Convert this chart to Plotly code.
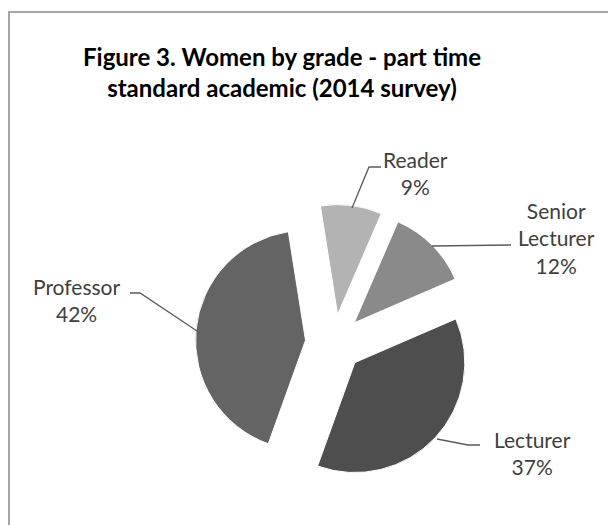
import plotly.graph_objects as go

# Share of part-time standard academic women by grade (2014 survey)
grades = ["Reader", "Senior Lecturer", "Lecturer", "Professor"]
shares = [9, 12, 37, 42]
slice_colors = ["#b3b3b3", "#8a8a8a", "#4e4e4e", "#646464"]

# label text lines for each grade
label_lines = {
    "Reader": ["Reader"],
    "Senior Lecturer": ["Senior", "Lecturer"],
    "Lecturer": ["Lecturer"],
    "Professor": ["Professor"],
}

W, H = 608, 525
FONT = "Lato"
TEXT_COLOR = "#404040"
LINE_COLOR = "#5a5a5a"


def px(x, y):
    """pixel position -> paper coordinates"""
    return x / W, 1 - y / H


fig = go.Figure()

x0, y0 = px(195.4, 481.6)
x1, y1 = px(472.6, 204.4)
fig.add_trace(go.Pie(
    labels=grades,
    values=shares,
    sort=False,
    direction="clockwise",
    rotation=-9,
    pull=[0.26] * len(grades),
    marker=dict(colors=slice_colors, line=dict(color="#ffffff", width=1)),
    textinfo="none",
    hoverinfo="label+percent",
    showlegend=False,
    domain=dict(x=[x0, x1], y=[y0, y1]),
))

# outside labels with leader lines
label_pos = {
    "Reader": (415, 173),
    "Senior Lecturer": (556, 238),
    "Lecturer": (532, 453),
    "Professor": (76, 300),
}
leaders = {
    "Reader": [(352, 208), (369, 167), (381, 167)],
    "Senior Lecturer": [(432, 246), (511, 245)],
    "Lecturer": [(437, 439), (468, 445), (480, 445)],
    "Professor": [(130, 293), (140, 293), (197, 331)],
}

annotations = []
shapes = []
for g, v in zip(grades, shares):
    lx, ly = px(*label_pos[g])
    txt = "<br>".join(label_lines[g] + [f"{v}%"])
    annotations.append(dict(
        x=lx, y=ly, xref="paper", yref="paper",
        text=txt, showarrow=False, xanchor="center", yanchor="middle",
        align="center",
        font=dict(family=FONT, size=21, color=TEXT_COLOR),
    ))
    pts = leaders[g]
    path = "M " + " L ".join(f"{px(a, b)[0]:.5f},{px(a, b)[1]:.5f}" for a, b in pts)
    shapes.append(dict(type="path", xref="paper", yref="paper", path=path,
                       line=dict(color=LINE_COLOR, width=1.3)))

# chart frame
fx0, fy0 = px(9, 12)
shapes.append(dict(type="rect", xref="paper", yref="paper",
                   x0=fx0, y0=-0.05, x1=1.05, y1=fy0,
                   line=dict(color="#a6a6a6", width=2), fillcolor="rgba(0,0,0,0)",
                   layer="below"))

tx, ty = px(282, 72)
annotations.append(dict(
    x=tx, y=ty, xref="paper", yref="paper",
    text="<b>Figure 3. Women by grade - part time<br>standard academic (2014 survey)</b>",
    showarrow=False, xanchor="center", yanchor="middle", align="center",
    font=dict(family=FONT, size=24, color="#000000"),
))

fig.update_layout(
    width=W, height=H,
    margin=dict(l=0, r=0, t=0, b=0),
    paper_bgcolor="#ffffff",
    plot_bgcolor="#ffffff",
    annotations=annotations,
    shapes=shapes,
)

fig.write_html("out.html")
